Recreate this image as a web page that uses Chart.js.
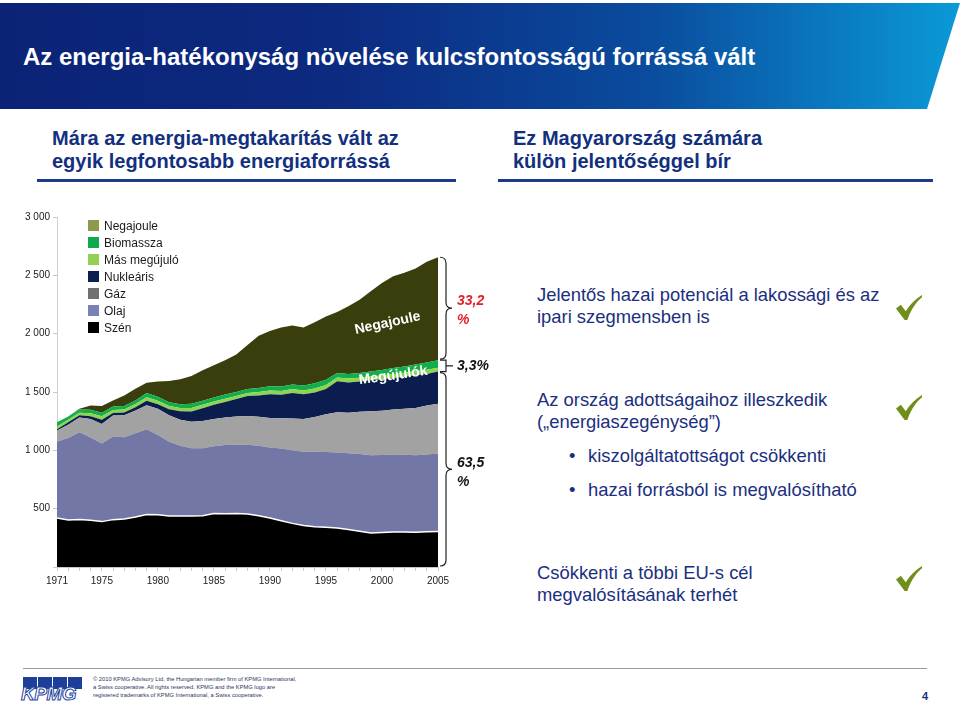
<!DOCTYPE html>
<html lang="hu">
<head>
<meta charset="UTF-8">
<title>Az energia-hatékonyság növelése kulcsfontosságú forrássá vált</title>
<script src="https://cdn.jsdelivr.net/npm/chart.js"></script>
<style>
  body { margin:0; width:960px; height:705px; position:relative; overflow:hidden; background:#fff;
         font-family:"Liberation Sans", Arial, sans-serif; }
  .abs { position:absolute; white-space:nowrap; }
  /* fejléc sáv */
  #header { left:0; top:3px; width:960px; height:106px;
            background:linear-gradient(to right,#0b2377 0%,#0c2a80 35%,#0a4c9e 68%,#0a9ad7 100%);
            clip-path:polygon(0 0,960px 0,927px 106px,0 106px); }
  #title { left:23px; top:43px; color:#fff; font-weight:bold; font-size:24px; line-height:28px; }
  .sub { color:#13307f; font-weight:bold; font-size:20px; line-height:23px; top:127px; }
  .rule { height:3px; background:#1b3a8c; top:179px; }
  .txt { color:#1b2f80; font-size:18.4px; line-height:22px; }
  .check { width:26px; height:25px; }
  #chartBox { left:0; top:200px; width:500px; height:400px; }
  .leg { left:88px; font-size:12px; color:#1a1a1a; line-height:14px; }
  .leg i { display:inline-block; width:11px; height:11px; vertical-align:-1px; margin-right:5px; }
  #footLine { left:23px; top:668px; width:904px; height:1px; background:#9a9a9a; }
  .kbox { top:677px; width:14px; height:12px; background:#1d3f99; }
  #kpmg { left:21px; top:683px; font-size:19px; font-weight:bold; font-style:italic; color:#fff;
          -webkit-text-stroke:1px #1d3f99; letter-spacing:-0.5px; }
  #copy { left:93px; top:675px; font-size:8px; line-height:11px; color:#2a3560;
          transform:scale(0.72); transform-origin:left top; }
  #page { left:922px; top:690px; font-size:11px; font-weight:bold; color:#1b2f80; }
</style>
</head>
<body>
<div id="header" class="abs"></div>
<div id="title" class="abs">Az energia-hatékonyság növelése kulcsfontosságú forrássá vált</div>

<div class="abs sub" style="left:52px">Mára az energia-megtakarítás vált az<br>egyik legfontosabb energiaforrássá</div>
<div class="abs sub" style="left:513px">Ez Magyarország számára<br>külön jelentőséggel bír</div>
<div class="abs rule" style="left:37px;width:419px"></div>
<div class="abs rule" style="left:498px;width:435px"></div>

<div id="chartBox" class="abs"><canvas id="energyChart" width="500" height="400"></canvas></div>
<div id="legend"></div>

<div class="abs txt" style="left:537px;top:284px">Jelentős hazai potenciál a lakossági és az<br>ipari szegmensben is</div>
<div class="abs txt" style="left:537px;top:389px">Az ország adottságaihoz illeszkedik<br>(„energiaszegénység”)</div>
<div class="abs txt" style="left:569px;top:445px">•</div>
<div class="abs txt" style="left:588px;top:445px">kiszolgáltatottságot csökkenti</div>
<div class="abs txt" style="left:569px;top:479px">•</div>
<div class="abs txt" style="left:588px;top:479px">hazai forrásból is megvalósítható</div>
<div class="abs txt" style="left:537px;top:562px;line-height:21.5px">Csökkenti a többi EU-s cél<br>megvalósításának terhét</div>

<svg class="abs check" style="left:896px;top:295px" viewBox="0 0 24 23"><path d="M0,12.5 L4.5,9 L9,15 C13,8.5 18,3.5 24,0 L24,2 C18.5,6.5 14,13 10.5,23 L8,23 Z" fill="#6f8f1a"/></svg>
<svg class="abs check" style="left:896px;top:395px" viewBox="0 0 24 23"><path d="M0,12.5 L4.5,9 L9,15 C13,8.5 18,3.5 24,0 L24,2 C18.5,6.5 14,13 10.5,23 L8,23 Z" fill="#6f8f1a"/></svg>
<svg class="abs check" style="left:896px;top:566px" viewBox="0 0 24 23"><path d="M0,12.5 L4.5,9 L9,15 C13,8.5 18,3.5 24,0 L24,2 C18.5,6.5 14,13 10.5,23 L8,23 Z" fill="#6f8f1a"/></svg>

<div id="footLine" class="abs"></div>
<div class="abs kbox" style="left:23px"></div>
<div class="abs kbox" style="left:38px"></div>
<div class="abs kbox" style="left:53px"></div>
<div class="abs kbox" style="left:68px"></div>
<div id="kpmg" class="abs">KPMG</div>
<div id="copy" class="abs">© 2010 KPMG Advisory Ltd, the Hungarian member firm of KPMG International,<br>a Swiss cooperative. All rights reserved. KPMG and the KPMG logo are<br>registered trademarks of KPMG International, a Swiss cooperative.</div>
<div id="page" class="abs">4</div>

<script>
// Évek (kategóriák) és a megjelenített évcímkék
const years = ['1971','1972','1973','1974','1975','1976','1977','1978','1979','1980',
               '1981','1982','1983','1984','1985','1986','1987','1988','1989','1990',
               '1991','1992','1993','1994','1995','1996','1997','1998','1999','2000',
               '2001','2002','2003','2004','2005'];
const shownYears = ['1971','1975','1980','1985','1990','1995','2000','2005'];

// Energiafelhasználás forrásonként
const szen        = [420,402,408,400,389,406,412,428,449,447,438,438,438,440,458,456,458,455,440,420,
                     396,374,355,345,340,334,322,306,291,296,300,300,298,303,305];
const olaj        = [653,703,747,710,669,712,700,718,731,684,635,601,580,578,576,589,590,593,600,605,
                     620,626,633,642,645,648,653,662,667,664,665,662,660,662,667];
const gaz         = [96,115,127,158,168,180,188,195,207,225,227,223,227,234,234,237,242,247,247,253,
                     259,272,280,298,325,345,347,362,378,380,385,394,404,420,427];
const nuklearis   = [11,20,18,24,36,22,25,29,38,39,52,73,88,108,122,133,150,170,183,202,
                     202,220,212,210,215,265,260,260,264,269,271,274,282,270,276];
const masMegujulo = [25,22,22,26,30,25,25,28,30,30,28,27,29,30,28,27,25,27,30,32,
                     31,33,32,35,35,33,33,32,32,33,34,34,34,35,33];
const biomassza   = [36,28,28,30,30,30,30,30,37,35,32,33,37,35,34,36,35,33,35,38,
                     40,40,43,45,45,38,40,40,43,46,50,54,57,62,65];
const negajoule   = [0,0,6,36,57,53,90,100,88,130,183,214,239,262,278,295,322,377,448,473,
                     505,505,498,523,543,522,579,629,689,747,788,804,824,865,882];

const seriesNames  = ['Szén','Olaj','Gáz','Nukleáris','Más megújuló','Biomassza','Negajoule'];
const seriesData   = [szen, olaj, gaz, nuklearis, masMegujulo, biomassza, negajoule];
const areaColors   = ['#000000','#7277a6','#a2a2a2','#0b1d4e','#8fd450','#12ae4c','#3a3e0c'];
const legendColors = ['#000000','#7b81b4','#707070','#0b1f50','#92d050','#0fa94f','#8d9a49'];

// Arány-feliratok a 2005-ös oszlop mellett
const shareNegajoule = ['33,2', '%'];
const shareMegujulok = '3,3%';
const shareFosszilis = ['63,5', '%'];

Chart.defaults.font.family = '"Liberation Sans", Arial, sans-serif';

// jelmagyarázat (a felső sáv van legfelül)
const legendBox = document.getElementById('legend');
for (let k = seriesNames.length - 1, row = 0; k >= 0; k--, row++) {
    const el = document.createElement('div');
    el.className = 'abs leg';
    el.style.top = (219 + row * 17) + 'px';
    el.innerHTML = '<i style="background:' + legendColors[k] + '"></i>' + seriesNames[k];
    legendBox.appendChild(el);
}

function brace(ctx, x, y1, y2, w) {
    const ym = (y1 + y2) / 2, r = w / 2;
    ctx.beginPath();
    ctx.moveTo(x, y1);
    ctx.quadraticCurveTo(x + r, y1, x + r, y1 + r);
    ctx.lineTo(x + r, ym - r);
    ctx.quadraticCurveTo(x + r, ym, x + w, ym);
    ctx.quadraticCurveTo(x + r, ym, x + r, ym + r);
    ctx.lineTo(x + r, y2 - r);
    ctx.quadraticCurveTo(x + r, y2, x, y2);
    ctx.stroke();
}

// sávfeliratok és kapcsos zárójelek
const bandAnnotations = {
    id: 'bandAnnotations',
    afterDraw(chart) {
        const { ctx, scales: { x, y } } = chart;
        const n = years.length - 1;
        const fossilTop = szen[n] + olaj[n] + gaz[n] + nuklearis[n];
        const renewTop = fossilTop + masMegujulo[n] + biomassza[n];
        const total = renewTop + negajoule[n];
        const bx = x.getPixelForValue(n) + 2;
        const tx = bx + 17;

        ctx.save();
        // elforgatott feliratok a területeken
        ctx.fillStyle = '#ffffff';
        ctx.font = 'bold 14px "Liberation Sans"';
        ctx.textAlign = 'center';
        ctx.textBaseline = 'middle';
        ctx.save();
        ctx.translate(x.getPixelForValue(29.5), y.getPixelForValue(2090));
        ctx.rotate(-12 * Math.PI / 180);
        ctx.fillText('Negajoule', 0, 0);
        ctx.restore();
        ctx.save();
        ctx.translate(x.getPixelForValue(30), y.getPixelForValue(1640));
        ctx.rotate(-8 * Math.PI / 180);
        ctx.fillText('Megújulók', 0, 0);
        ctx.restore();

        ctx.strokeStyle = '#222';
        ctx.lineWidth = 1.2;
        const t1 = y.getPixelForValue(total), t2 = y.getPixelForValue(renewTop) - 1;
        const f1 = y.getPixelForValue(fossilTop) + 1, f2 = y.getPixelForValue(0) - 1;
        brace(ctx, bx, t1, t2, 12);
        brace(ctx, bx, f1, f2, 12);
        const s1 = y.getPixelForValue(renewTop), s2 = y.getPixelForValue(fossilTop), sm = (s1 + s2) / 2;
        ctx.beginPath();
        ctx.moveTo(bx, s1); ctx.lineTo(bx + 6, s1); ctx.lineTo(bx + 6, s2); ctx.lineTo(bx, s2);
        ctx.moveTo(bx + 6, sm); ctx.lineTo(bx + 13, sm);
        ctx.stroke();

        ctx.font = 'italic bold 14px "Liberation Sans"';
        ctx.textAlign = 'left';
        ctx.fillStyle = '#e3202a';
        const tm = (t1 + t2) / 2;
        ctx.fillText(shareNegajoule[0], tx, tm - 7);
        ctx.fillText(shareNegajoule[1], tx, tm + 12);
        ctx.fillStyle = '#111';
        ctx.fillText(shareMegujulok, tx, sm);
        const fm = (f1 + f2) / 2;
        ctx.fillText(shareFosszilis[0], tx, fm - 6);
        ctx.fillText(shareFosszilis[1], tx, fm + 13);
        ctx.restore();
    }
};

new Chart(document.getElementById('energyChart'), {
    type: 'line',
    data: {
        labels: years,
        datasets: seriesData.map((d, i) => ({
            label: seriesNames[i],
            data: d,
            backgroundColor: areaColors[i],
            borderColor: i === 0 ? '#ffffff' : areaColors[i],
            borderWidth: i === 0 ? 1.5 : 0,
            pointRadius: 0,
            fill: i === 0 ? 'origin' : '-1',
            tension: 0
        }))
    },
    options: {
        responsive: false,
        animation: false,
        devicePixelRatio: 1,
        layout: { padding: { top: 17, right: 62, left: 0, bottom: 0 } },
        plugins: { legend: { display: false }, tooltip: { enabled: false } },
        scales: {
            x: {
                grid: { drawOnChartArea: false, tickLength: 4, color: '#c8c8c8' },
                border: { color: '#c8c8c8' },
                ticks: {
                    autoSkip: false, maxRotation: 0, padding: 4, color: '#1a1a1a', font: { size: 10 },
                    callback: (v, i) => shownYears.includes(years[i]) ? years[i] : ''
                },
                afterFit: s => { s.height = 33; }
            },
            y: {
                stacked: true,
                min: 0,
                max: 3000,
                grid: { drawOnChartArea: false, tickLength: 4, color: '#c8c8c8' },
                border: { color: '#d0d0d0' },
                ticks: {
                    stepSize: 500, padding: 3, color: '#1a1a1a', font: { size: 10 },
                    callback: v => v === 0 ? '' : String(v).replace(/\B(?=(\d{3})+$)/g, ' ')
                },
                afterFit: s => { s.width = 57; }
            }
        }
    },
    plugins: [bandAnnotations]
});
</script>
</body>
</html>
